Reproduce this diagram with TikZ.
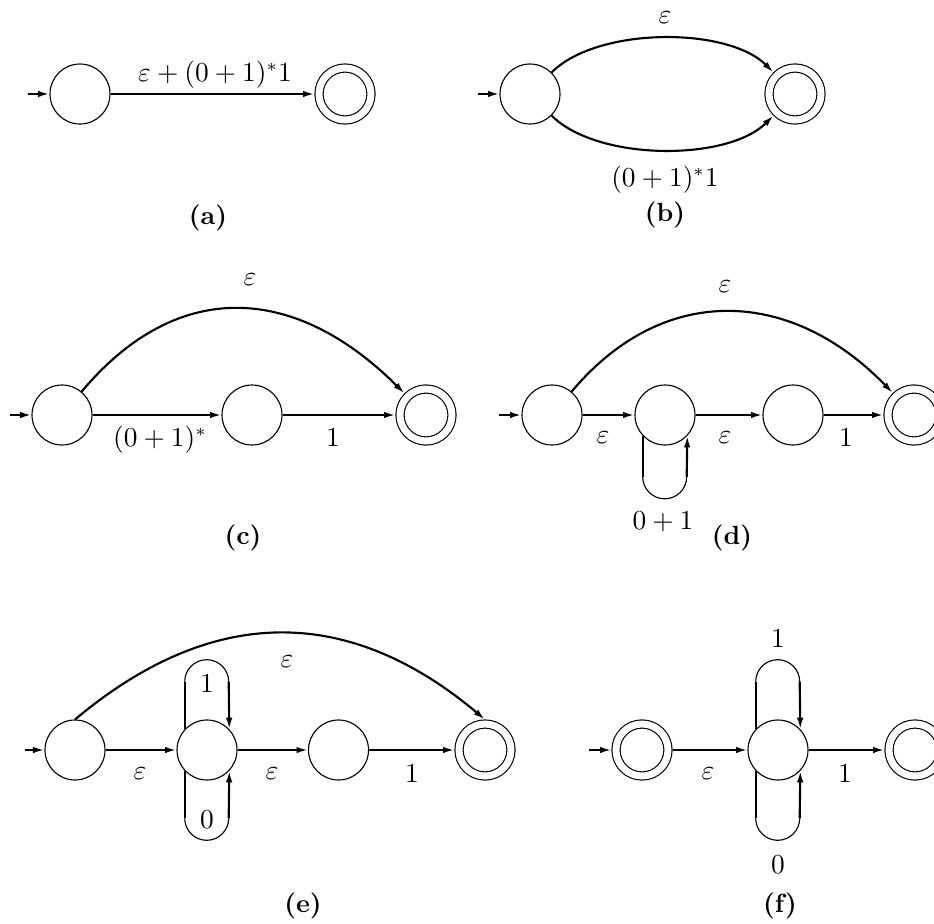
\documentclass[tikz,border=0pt]{standalone}
\usetikzlibrary{arrows.meta}
\begin{document}
\begin{tikzpicture}[x=0.4pt,y=0.4pt,
  state/.style={circle,draw,line width=0.45pt,minimum size=24pt,inner sep=0pt,outer sep=0.2pt},
  accept/.style={circle,draw,line width=0.45pt,double,double distance=2.8pt,minimum size=20.8pt,inner sep=0pt,outer sep=1.8pt},
  edge/.style={line width=0.85pt,-{Latex[length=4.6pt,width=2.6pt]}},
  loopline/.style={line width=0.85pt},
  looparc/.style={line width=0.45pt},
  lbl/.style={anchor=base,inner sep=0pt,font=\fontsize{10.5}{12}\selectfont},
  captiontext/.style={anchor=base,inner sep=0pt,font=\fontsize{10.5}{12}\selectfont\bfseries}]
\useasboundingbox (0,0) rectangle (934,923);
% ---------- (a)
\coordinate (a0) at (28,829);
\node[state] (a1) at (80,829) {};
\node[accept] (a2) at (345,829) {};
\draw[edge] (a0) -- (a1);
\draw[edge] (a1) -- (a2);
\node[lbl] (la) at (215,842) {$\varepsilon+(0+1)^*1$};
\node[captiontext] (ca) at (208,699) {(a)};
% ---------- (b)
\coordinate (b0) at (478,829);
\node[state] (b1) at (530,829) {};
\node[accept] (b2) at (795,829) {};
\draw[edge] (b0) -- (b1);
\draw[edge] (b1) to[out=45,in=135,looseness=0.75] (b2);
\draw[edge] (b1) to[out=-45,in=-135,looseness=0.75] (b2);
\node[lbl] (lb1) at (665,900) {$\varepsilon$};
\node[lbl] (lb2) at (665,737) {$(0+1)^*1$};
\node[captiontext] (cb) at (665,702) {(b)};
% ---------- (c)
\coordinate (c0) at (10,508);
\node[state] (c1) at (62,508) {};
\node[state] (c2) at (252,508) {};
\node[accept] (c3) at (426,508) {};
\draw[edge] (c0) -- (c1);
\draw[edge] (c1) -- (c2);
\draw[edge] (c2) -- (c3);
\draw[edge] (c1) to[out=50,in=135,looseness=1.2] (c3);
\node[lbl] (lc1) at (160,477) {$(0+1)^*$};
\node[lbl] (lc2) at (333,477) {$1$};
\node[lbl] (lc3) at (250,638) {$\varepsilon$};
\node[captiontext] (cc) at (243,379) {(c)};
% ---------- (d)
\coordinate (d0) at (499,508);
\node[state] (d1) at (552,508) {};
\node[state] (d2) at (665,508) {};
\node[state] (d3) at (793,508) {};
\node[accept] (d4) at (914,508) {};
\draw[edge] (d0) -- (d1);
\draw[edge] (d1) -- (d2);
\draw[edge] (d2) -- (d3);
\draw[edge] (d3) -- (d4);
\draw[edge] (d1) to[out=50,in=134,looseness=1.15] (d4);
\draw[loopline] (d2.223) -- ++(0,-41) coordinate (dla);
\draw[looparc] (dla) arc[start angle=180,end angle=360,radius=8.8pt] coordinate (dlb);
\draw[edge] (dlb) -- (d2.317);
\node[lbl] (ld1) at (603,480) {$\varepsilon$};
\node[lbl] (ld2) at (725,480) {$\varepsilon$};
\node[lbl] (ld3) at (846,477) {$1$};
\node[lbl] (ld4) at (725,631) {$\varepsilon$};
\node[lbl] (ld5) at (663,394) {$0+1$};
\node[captiontext] (cd) at (732,379) {(d)};
% ---------- (e)
\coordinate (e0) at (25,173);
\node[state] (e1) at (75,173) {};
\node[state] (e2) at (207,173) {};
\node[state] (e3) at (338.5,173) {};
\node[accept] (e4) at (485,173) {};
\draw[edge] (e0) -- (e1);
\draw[edge] (e1) -- (e2);
\draw[edge] (e2) -- (e3);
\draw[edge] (e3) -- (e4);
\draw[edge] (e1.north) .. controls +(137,115) and +(-137,115) .. (e4.north);
\draw[loopline] (e2.137) -- ++(0,47.5) coordinate (eta);
\draw[looparc] (eta) arc[start angle=180,end angle=0,radius=8.8pt] coordinate (etb);
\draw[edge] (etb) -- (e2.43);
\draw[loopline] (e2.223) -- ++(0,-47.5) coordinate (eba);
\draw[looparc] (eba) arc[start angle=180,end angle=360,radius=8.8pt] coordinate (ebb);
\draw[edge] (ebb) -- (e2.317);
\node[lbl] (le1) at (140,144) {$\varepsilon$};
\node[lbl] (le2) at (272,144) {$\varepsilon$};
\node[lbl] (le3) at (412,141) {$1$};
\node[lbl] (le4) at (287,256) {$\varepsilon$};
\node[lbl] (le5) at (207,231) {$1$};
\node[lbl] (le6) at (207,95) {$0$};
\node[captiontext] (ce) at (303,11) {(e)};
% ---------- (f)
\coordinate (f0) at (589,173);
\node[accept] (f1) at (642,173) {};
\node[state] (f2) at (778,173) {};
\node[accept] (f3) at (915,173) {};
\draw[edge] (f0) -- (f1);
\draw[edge] (f1) -- (f2);
\draw[edge] (f2) -- (f3);
\draw[loopline] (f2.137) -- ++(0,47.5) coordinate (fta);
\draw[looparc] (fta) arc[start angle=180,end angle=0,radius=8.8pt] coordinate (ftb);
\draw[edge] (ftb) -- (f2.43);
\draw[loopline] (f2.223) -- ++(0,-47.5) coordinate (fba);
\draw[looparc] (fba) arc[start angle=180,end angle=360,radius=8.8pt] coordinate (fbb);
\draw[edge] (fbb) -- (f2.317);
\node[lbl] (lf1) at (708,144) {$\varepsilon$};
\node[lbl] (lf2) at (845,141) {$1$};
\node[lbl] (lf3) at (778,276) {$1$};
\node[lbl] (lf4) at (778,50) {$0$};
\node[captiontext] (cf) at (780,11) {(f)};
\end{tikzpicture}
\end{document}
